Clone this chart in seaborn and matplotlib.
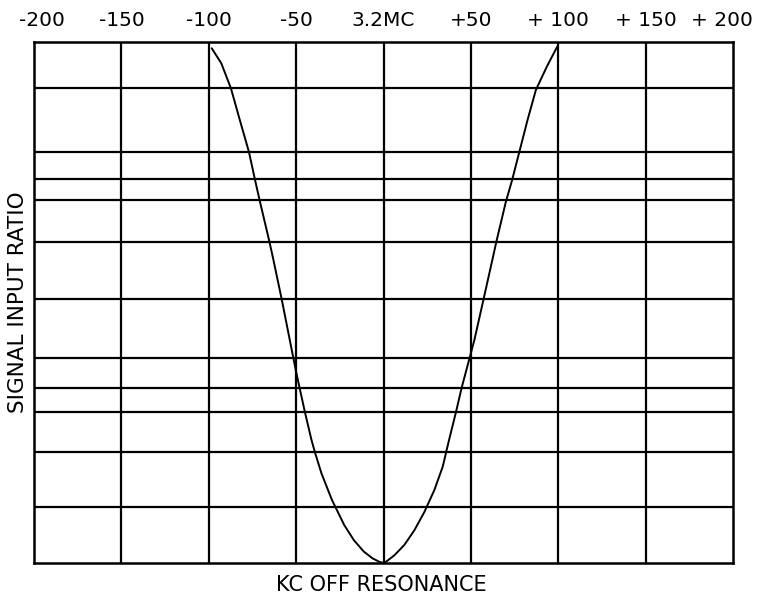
import numpy as np
import pandas as pd
import matplotlib
matplotlib.use('Agg')
import matplotlib.pyplot as plt
import matplotlib.transforms as mtransforms
import seaborn as sns

# top axis: kc off resonance, centre 3.2 MC
tickPos = [-200, -150, -100, -50, 0, 50, 100, 150, 200]
tickLabels = ['-200', '-150', '-100', '-50', '3.2MC', '+50', '+ 100', '+ 150', '+ 200']

# horizontal rulings (relative scale, 0 = bottom, 100 = top)
hLines = [91.2, 78.9, 73.7, 69.6, 61.6, 50.7, 39.3, 33.6, 29.0, 21.3, 10.7]

# response curve
curveKc = [-98.3, -92.8, -87.3, -82.2, -77.0, -73.5, -70.8, -65.3, -63.2, -58.3,
           -52.5, -50.2, -48.0, -45.0, -41.2, -39.2, -35.5, -29.5, -22.5, -17.0,
           -11.3, -6.3, -2.5, 0.0, 1.5, 6.3, 12.0, 17.7, 23.4, 29.1, 33.9, 37.5,
           41.5, 44.7, 48.5, 52.0, 57.3, 62.5, 64.6, 70.0, 73.6, 77.5, 82.4,
           87.2, 93.5, 99.4]
curveRatio = [98.8, 95.9, 91.1, 85.0, 78.9, 73.5, 69.5, 61.7, 58.5, 50.7,
              40.9, 37.0, 33.6, 29.0, 23.6, 21.2, 17.2, 12.1, 7.3, 4.4,
              2.2, 0.9, 0.25, 0.0, 0.25, 1.5, 3.5, 6.3, 9.8, 14.0, 18.5, 23.6,
              29.0, 33.6, 38.4, 42.8, 50.7, 58.5, 61.7, 69.3, 73.5, 78.6, 85.0,
              90.8, 95.3, 99.1]

df = pd.DataFrame({'kc': curveKc, 'ratio': curveRatio})

sns.set_style('white')
plt.rcParams['font.family'] = ['DejaVu Sans']

fig = plt.figure(figsize=(7.57, 5.98), dpi=100)
ax = fig.add_axes([34/757, 35/598, 699/757, 521/598])

for x in tickPos[1:-1]:
    ax.axvline(x, color='black', lw=1.6)
for y in hLines:
    ax.axhline(y, color='black', lw=1.6)

sns.lineplot(data=df, x='kc', y='ratio', color='black', lw=1.4,
             sort=False, estimator=None, ax=ax)

ax.set_xlim(-200, 200)
ax.set_ylim(0, 100)
ax.xaxis.tick_top()
ax.set_xticks(tickPos)
ax.set_xticklabels(tickLabels, fontsize=14.5, color='black')
ax.tick_params(axis='x', length=0, pad=9)
ax.set_yticks([])
for s in ax.spines.values():
    s.set_color('black')
    s.set_linewidth(1.8)

# the end labels sit a little inside the frame on the original
labs = ax.get_xticklabels()
labs[0].set_transform(labs[0].get_transform() + mtransforms.ScaledTranslation(8/100, 0, fig.dpi_scale_trans))
labs[-1].set_transform(labs[-1].get_transform() + mtransforms.ScaledTranslation(-11/100, 0, fig.dpi_scale_trans))

ax.set_xlabel('')
ax.set_ylabel('SIGNAL INPUT RATIO', fontsize=15.5, labelpad=4, color='black')
fig.text(381/757, 1 - 585/598, 'KC OFF RESONANCE', ha='center', va='center',
         fontsize=15, color='black')

fig.savefig('out.png', dpi=100)
